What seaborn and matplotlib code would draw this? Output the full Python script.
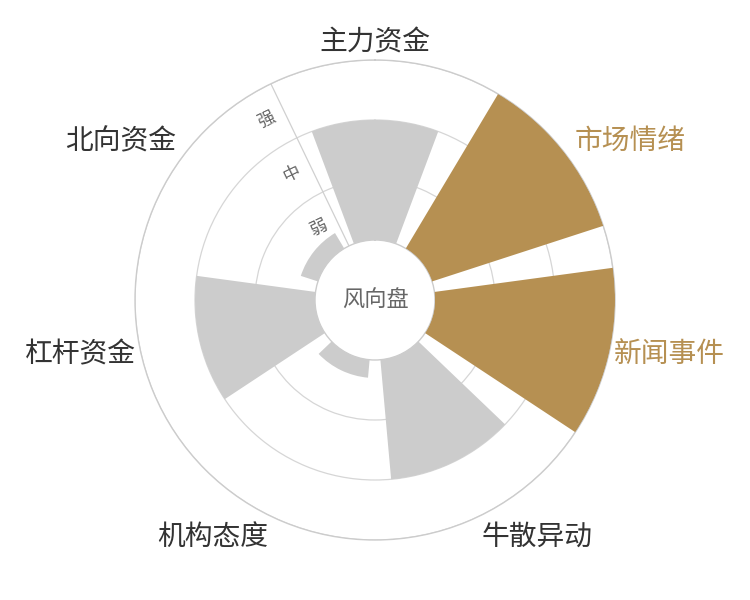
import numpy as np
import pandas as pd
import matplotlib.pyplot as plt
import seaborn as sns

categories = ["主力资金", "市场情绪", "新闻事件", "牛散异动", "机构态度", "杠杆资金", "北向资金"]
strength = [2, 3, 3, 2, 0.3, 2, 0.3]
level_labels = ["弱", "中", "强"]

gold = "#b69052"
grey = "#cccccc"

n = len(categories)
theta = np.arange(n) * 2 * np.pi / n
df = pd.DataFrame({"theta": theta, "value": strength, "cat": categories})
df["tone"] = np.where(df["value"] >= 3, "hi", "lo")

sns.set_theme(style="white")
plt.rcParams["font.family"] = ["Noto Sans CJK SC", "DejaVu Sans"]

fig = plt.figure(figsize=(7.5, 6), dpi=100)
ax = fig.add_axes([0.18, 0.1, 0.64, 0.8], projection="polar")
ax.set_theta_zero_location("N")
ax.set_theta_direction(-1)

sns.barplot(data=df, x="theta", y="value", hue="tone", palette={"hi": gold, "lo": grey},
            saturation=1, native_scale=True, errorbar=None, legend=False,
            linewidth=0, ax=ax, zorder=3)

ax.set_rorigin(-1)
ax.set_ylim(0, 3)
ax.set_xticks([])
ax.set_yticks([1, 2, 3])
ax.set_yticklabels([])
ax.grid(True, color="#d6d6d6", linewidth=0.9)
ax.set_axisbelow(True)
ax.set_xlabel("")
ax.set_ylabel("")
for sp in ax.spines.values():
    sp.set_color("#cccccc")
    sp.set_linewidth(1.0)

# radius axis line, between the last and first sector
ang0 = -np.pi / n
ax.plot([ang0, ang0], [0, 3], color="#d0d0d0", linewidth=0.9, zorder=1)
for i, lab in enumerate(level_labels):
    ax.annotate(lab, xy=(ang0, i + 0.5), xytext=(-18, -9), textcoords="offset pixels",
                rotation=np.degrees(np.pi / n), ha="center", va="center",
                fontsize=12.5, color="#666666")

# category labels
for t, cat, v in zip(theta, categories, strength):
    s, c = np.sin(t), np.cos(t)
    ha = "left" if s > 0.1 else ("right" if s < -0.1 else "center")
    if c > 0.9:
        va, r = "bottom", 3.05
    elif c < -0.8:
        va, r = "top", 3.1
    elif abs(c) < 0.3:
        va, r = "center", 3.08
    else:
        va, r = "center", 3.25
    ax.text(t, r, cat, ha=ha, va=va, fontsize=20,
            color=gold if v >= 3 else "#333333")

ax.text(0.5, 0.5, "风向盘", transform=ax.transAxes, ha="center", va="center",
        fontsize=16, color="#666666")

plt.savefig("out.png", dpi=100)
